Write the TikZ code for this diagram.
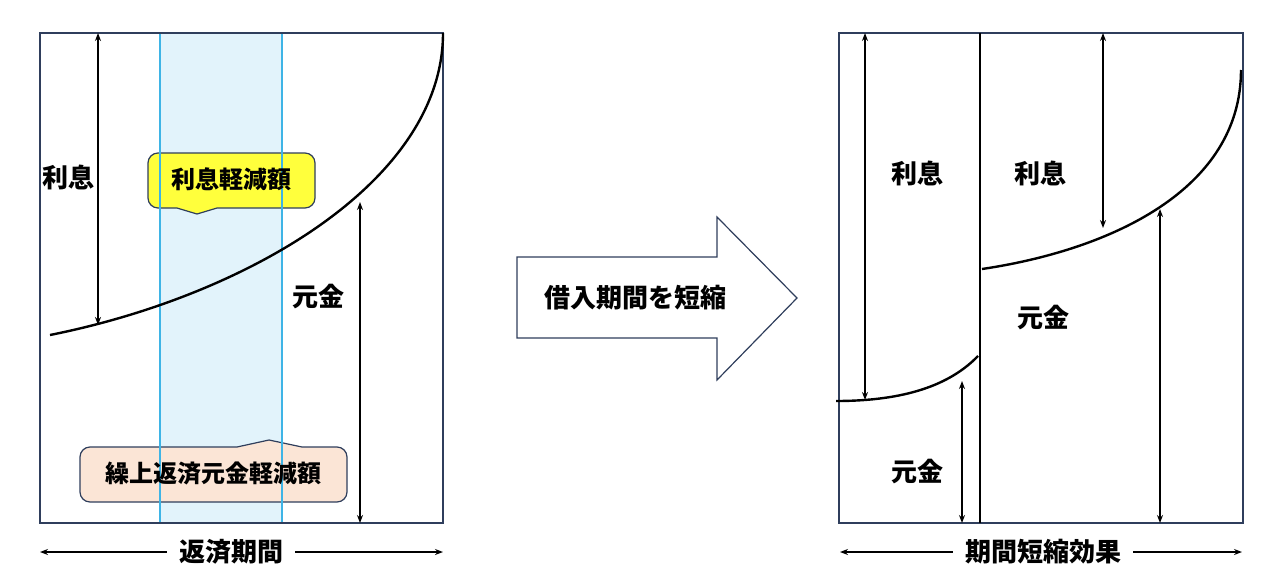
\documentclass[tikz,border=0pt]{standalone}
\usepackage{fontspec}
\setmainfont{Noto Sans CJK JP}
\usetikzlibrary{arrows.meta}
\definecolor{boxline}{RGB}{47,62,92}
\definecolor{bandfill}{RGB}{226,243,251}
\definecolor{bandline}{RGB}{62,180,230}
\definecolor{calloutyellow}{RGB}{255,255,60}
\definecolor{calloutpeach}{RGB}{251,229,214}
\tikzset{
  frame/.style={draw=boxline, line width=0.75pt},
  curve/.style={draw=black, line width=1.2pt},
  span/.style={{Stealth[length=4pt,width=3pt]}-{Stealth[length=4pt,width=3pt]}, line width=0.7pt},
  axis/.style={-{Stealth[length=4pt,width=3pt]}, line width=0.7pt},
  lbl/.style={font=\fontsize{13}{15}\selectfont\bfseries, inner sep=0pt},
  small lbl/.style={font=\fontsize{12}{14}\selectfont\bfseries, inner sep=0pt},
  period/.style={lbl, inner xsep=6pt},
  callout/.style={draw=boxline, line width=0.6pt}
}

\begin{document}
\begin{tikzpicture}[x=0.5pt,y=-0.5pt]
\useasboundingbox (0,0) rectangle (1280,584);

\begin{scope}
% prepayment band
\fill[bandfill] (160,33) rectangle (282,523);

% callouts
\draw[callout, fill=calloutyellow] (217,208) -- (197,214) -- (177,208)
  [rounded corners=5pt] -- (148,208) -- (148,153) -- (315,153) -- (315,208)
  [sharp corners] -- cycle;
\draw[callout, fill=calloutpeach] (237,447) -- (269,440) -- (302,447)
  [rounded corners=5pt] -- (347,447) -- (347,502) -- (80,502) -- (80,447)
  [sharp corners] -- cycle;
\draw[bandline, line width=0.6pt] (160,33) -- (160,523) (282,33) -- (282,523);

% frame and curve
\draw[frame] (40,33) rectangle (443,523);
\draw[curve] (50,335) .. controls (250,295) and (443,180) .. (443,33);

% spans
\coordinate (iTop) at (98,33);
\coordinate (iLow) at (98,325);
\coordinate (pTop) at (360,202);
\coordinate (pLow) at (360,523);
\draw[span] (iTop) -- (iLow);
\draw[span] (pTop) -- (pLow);

\node[lbl] (interestA) at (68,177) {利息};
\node[lbl] (principalA) at (318,297) {元金};
\node[small lbl] (cutInterest) at (231,179) {利息軽減額};
\node[small lbl] (cutPrincipal) at (213,473) {繰上返済元金軽減額};

% period
\node[period] (termA) at (231,552) {返済期間};
\coordinate (termAL) at (40,552);
\coordinate (termAR) at (443,552);
\draw[axis] (termA.west) -- (termAL);
\draw[axis] (termA.east) -- (termAR);
\end{scope}

% shift arrow
\draw[frame, line width=0.6pt, fill=white] (517,257) -- (717,257) -- (717,217) -- (797,298)
  -- (717,380) -- (717,338) -- (517,338) -- cycle;
\node[lbl] (shorten) at (635,298) {借入期間を短縮};

\begin{scope}
% frame and split
\draw[frame] (839,33) rectangle (1243,523);
\coordinate (splitTop) at (980,33);
\coordinate (splitLow) at (980,523);
\draw[line width=0.8pt] (splitTop) -- (splitLow);

% curves
\draw[curve] (836,401) .. controls (905,401) and (950,385) .. (978,356);
\draw[curve] (982,269) .. controls (1110,250) and (1241,190) .. (1241,70);

% spans
\coordinate (iTopB) at (865,33);
\coordinate (iLowB) at (865,400);
\coordinate (pTopB) at (962,381);
\coordinate (pLowB) at (962,523);
\coordinate (iTopC) at (1103,33);
\coordinate (iLowC) at (1103,228);
\coordinate (pTopC) at (1160,209);
\coordinate (pLowC) at (1160,523);
\draw[span] (iTopB) -- (iLowB);
\draw[span] (pTopB) -- (pLowB);
\draw[span] (iTopC) -- (iLowC);
\draw[span] (pTopC) -- (pLowC);

\node[lbl] (interestB) at (917,173) {利息};
\node[lbl] (principalB) at (917,472) {元金};
\node[lbl] (interestC) at (1040,173) {利息};
\node[lbl] (principalC) at (1043,318) {元金};

% period
\node[period] (termB) at (1043,552) {期間短縮効果};
\coordinate (termBL) at (840,552);
\coordinate (termBR) at (1242,552);
\draw[axis] (termB.west) -- (termBL);
\draw[axis] (termB.east) -- (termBR);
\end{scope}

\end{tikzpicture}
\end{document}
